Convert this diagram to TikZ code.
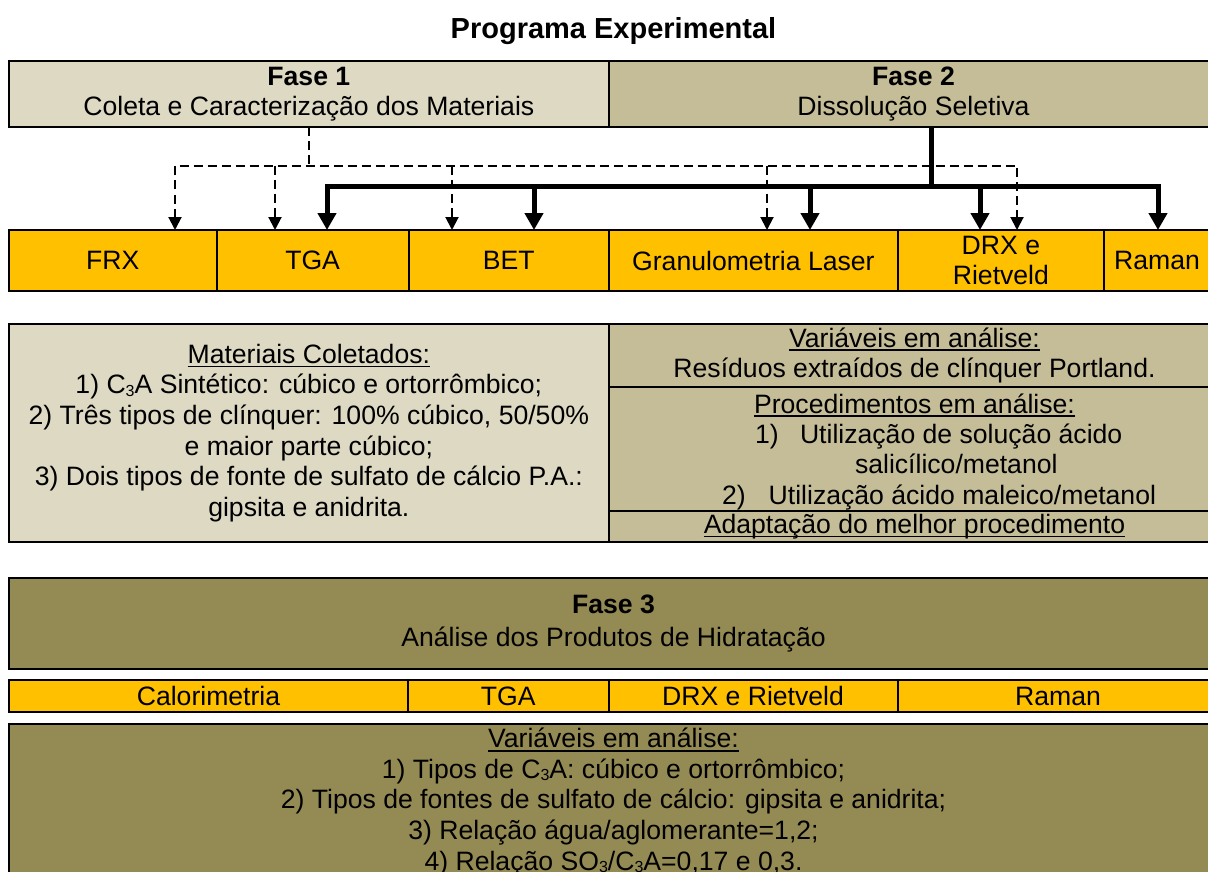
\documentclass[tikz,border=0pt]{standalone}
\usepackage{fontspec}
\setmainfont{Liberation Sans}
\usetikzlibrary{arrows.meta}
\definecolor{faseA}{HTML}{DDD9C3}
\definecolor{faseB}{HTML}{C4BD97}
\definecolor{faseC}{HTML}{948A54}
\definecolor{laranja}{HTML}{FFC000}
\newsavebox\ulbox
\newcommand\myul[1]{\sbox\ulbox{#1}\rlap{\rule[-4pt]{\wd\ulbox}{1.8pt}}\usebox\ulbox}
\newcommand\mysub[1]{\raisebox{-2.5pt}{\fontsize{16}{16}\selectfont #1}}
\begin{document}
\begin{tikzpicture}[x=1pt,y=-1pt,
  every node/.style={font=\fontsize{26.6}{30.6}\selectfont, inner sep=0pt, outer sep=0pt},
  cell/.style={draw=black, line width=2pt, align=center},
  titletext/.style={font=\fontsize{29}{32}\selectfont\bfseries},
  dashline/.style={draw=black, line width=2pt, dash pattern=on 9pt off 5pt},
  dasharr/.style={dashline, -{Triangle[width=13pt,length=13pt]}},
  dasharrboth/.style={dashline, {Triangle[width=13pt,length=13pt]}-{Triangle[width=13pt,length=13pt]}},
  thickline/.style={draw=black, line width=5pt},
  thickarr/.style={thickline, -{Triangle[width=18pt,length=17pt]}},
  thickarrboth/.style={thickline, line join=miter, {Triangle[width=18pt,length=17pt]}-{Triangle[width=18pt,length=17pt]}},
]
\useasboundingbox (0,0) rectangle (1208,872);
\clip (0,0) rectangle (1208,872);

% title
\node[titletext] (title) at (613.5,31) {Programa Experimental};

% phases 1 and 2
\node[cell, fill=faseA, minimum width=600.3pt, minimum height=66pt] (f1) at (308.85,94)
  {\textbf{Fase 1}\\Coleta e Caracterização dos Materiais};
\node[cell, fill=faseB, minimum width=609pt, minimum height=66pt] (f2) at (913.5,94)
  {\textbf{Fase 2}\\Dissolução Seletiva};

% technique row 1
\node[cell, fill=laranja, minimum width=208pt, minimum height=61pt] (frx) at (112.7,260.5) {FRX};
\node[cell, fill=laranja, minimum width=191.8pt, minimum height=61pt] (tga1) at (312.6,260.5) {TGA};
\node[cell, fill=laranja, minimum width=200.5pt, minimum height=61pt] (bet) at (508.75,260.5) {BET};
\node[cell, fill=laranja, minimum width=288.8pt, minimum height=61pt] (gran) at (753.4,260.5) {Granulometria Laser};
\node[cell, fill=laranja, minimum width=206.2pt, minimum height=61pt] (drx1) at (1000.9,260.5) {DRX e\\Rietveld};
\node[cell, fill=laranja, minimum width=106pt, minimum height=61pt] (raman1) at (1157,260.5) {Raman};

% section 2
\node[cell, fill=faseA, minimum width=600.3pt, minimum height=218pt] (mat) at (308.85,433)
  {\myul{Materiais Coletados:}\\
   1) C\mysub{3}A Sintético: cúbico e ortorrômbico;\\
   2) Três tipos de clínquer: 100\% cúbico, 50/50\%\\
   e maior parte cúbico;\\
   3) Dois tipos de fonte de sulfato de cálcio P.A.:\\
   gipsita e anidrita.};
\node[cell, fill=faseB, minimum width=611pt, minimum height=63pt] (var2) at (914.5,355.5)
  {\myul{Variáveis em análise:}\\Resíduos extraídos de clínquer Portland.};
\node[cell, fill=faseB, minimum width=611pt, minimum height=124pt] (proc) at (914.5,449) {};
\node[cell, fill=faseB, minimum width=611pt, minimum height=31pt] (adapt) at (914.5,526.5)
  {\myul{Adaptação do melhor procedimento}};
\node[anchor=base] (prochead) at (914.5,413) {\myul{Procedimentos em análise:}};
\node[anchor=base west] (p1n) at (755,443.5) {1)};
\node[anchor=base west] (p1t) at (800,443.5) {Utilização de solução ácido};
\node[anchor=base west] (p1c) at (855,473.5) {salicílico/metanol};
\node[anchor=base west] (p2n) at (722,504.5) {2)};
\node[anchor=base west] (p2t) at (768.7,504.5) {Utilização ácido maleico/metanol};

% phase 3
\node[cell, fill=faseC, minimum width=1209pt, minimum height=91pt] (f3) at (613.5,623.5)
  {\textbf{Fase 3}\\[2pt]Análise dos Produtos de Hidratação};
\node[cell, fill=laranja, minimum width=399pt, minimum height=32pt] (cal) at (208.5,696) {Calorimetria};
\node[cell, fill=laranja, minimum width=200.6pt, minimum height=32pt] (tga2) at (508.3,696) {TGA};
\node[cell, fill=laranja, minimum width=288.9pt, minimum height=32pt] (drx2) at (753.05,696) {DRX e Rietveld};
\node[cell, fill=laranja, minimum width=321pt, minimum height=32pt] (raman2) at (1058,696) {Raman};
\node[cell, fill=faseC, minimum width=1209pt, minimum height=156pt] (var3) at (613.5,802)
  {\myul{Variáveis em análise:}\\
   1) Tipos de C\mysub{3}A: cúbico e ortorrômbico;\\
   2) Tipos de fontes de sulfato de cálcio: gipsita e anidrita;\\
   3) Relação água/aglomerante=1,2;\\
   4) Relação SO\mysub{3}/C\mysub{3}A=0,17 e 0,3.};

% dashed connectors from phase 1
\coordinate (d1) at (175,166);
\coordinate (d2) at (275,166);
\coordinate (d3) at (452,166);
\coordinate (d4) at (767,166);
\coordinate (d5) at (1017,166);
\draw[dashline] (f1.south) -- (f1.south |- d1);
\draw[dasharrboth] (d1 |- frx.north) -- (d1) -- (d5) -- (d5 |- drx1.north);
\draw[dasharr] (d2) -- (d2 |- tga1.north);
\draw[dasharr] (d3) -- (d3 |- bet.north);
\draw[dasharr] (d4) -- (d4 |- gran.north);

% thick connectors from phase 2
\coordinate (b1) at (327,187);
\coordinate (b2) at (534,187);
\coordinate (b3) at (810,187);
\coordinate (b4) at (980,187);
\coordinate (b5) at (1158,187);
\coordinate (bj) at (931.5,187);
\draw[thickline] (bj |- f2.south) -- (bj);
\draw[thickarrboth] (b1 |- tga1.north) -- (b1) -- (b5) -- (b5 |- raman1.north);
\draw[thickarr] (b2) -- (b2 |- bet.north);
\draw[thickarr] (b3) -- (b3 |- gran.north);
\draw[thickarr] (b4) -- (b4 |- drx1.north);
\end{tikzpicture}
\end{document}
